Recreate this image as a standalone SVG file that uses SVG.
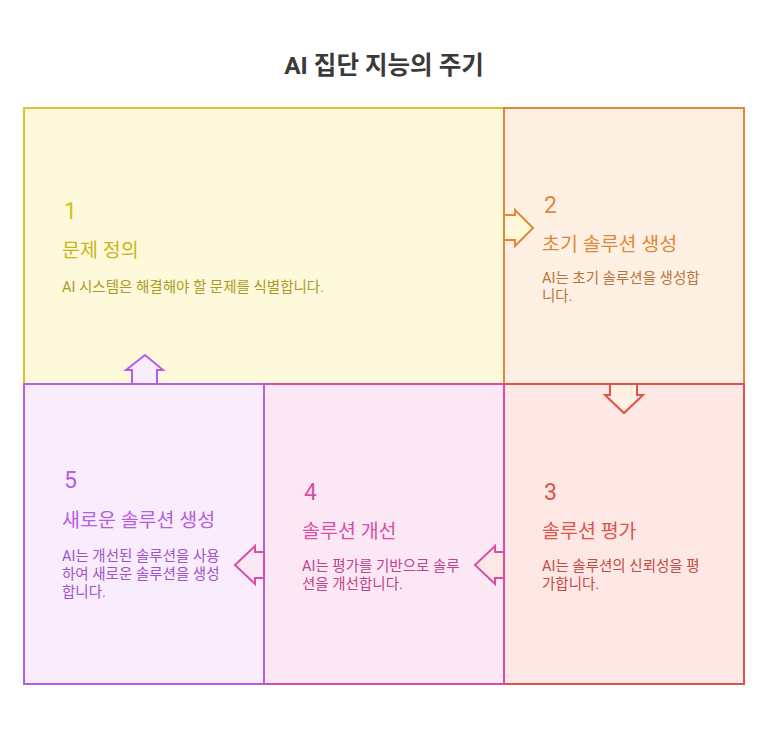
<svg xmlns="http://www.w3.org/2000/svg" width="768" height="732" viewBox="0 0 768 732">
<style>
text{font-family:Roboto,"Noto Sans CJK KR",sans-serif}
.n{font-size:23px}.h{font-size:19.5px}.d{font-size:14.5px}
rect,polygon{stroke-width:2}
</style>
<rect width="768" height="732" fill="#fff"/>
<text x="384" y="74" text-anchor="middle" font-size="24.5" font-weight="bold" fill="#3a3a3a">AI 집단 지능의 주기</text>
<g id="node1"><rect x="24" y="108" width="480" height="276" fill="#fef9db" stroke="#d6c62e"/>
<text class="n" x="64" y="219" fill="#d6c01e">1</text><text class="h" x="62" y="257" fill="#c9b51a">문제 정의</text>
<text class="d" x="62" y="292" fill="#a99a24">AI 시스템은 해결해야 할 문제를 식별합니다.</text></g>
<g id="node2"><rect x="504" y="108" width="240" height="276" fill="#fef0e3" stroke="#e0883a"/>
<text class="n" x="544" y="213" fill="#e0883a">2</text><text class="h" x="542" y="251" fill="#e0883a">초기 솔루션 생성</text>
<text class="d" x="542" y="283" fill="#b8743a">AI는 초기 솔루션을 생성합</text><text class="d" x="542" y="301" fill="#b8743a">니다.</text></g>
<g id="node3"><rect x="504" y="384" width="240" height="300" fill="#fde8e6" stroke="#e0534a"/>
<text class="n" x="544" y="500" fill="#e0534a">3</text><text class="h" x="542" y="538" fill="#e0534a">솔루션 평가</text>
<text class="d" x="542" y="571" fill="#c44a42">AI는 솔루션의 신뢰성을 평</text><text class="d" x="542" y="589" fill="#c44a42">가합니다.</text></g>
<g id="node4"><rect x="264" y="384" width="240" height="300" fill="#fce8f4" stroke="#d94fa6"/>
<text class="n" x="304" y="500" fill="#d94fa6">4</text><text class="h" x="302" y="538" fill="#d94fa6">솔루션 개선</text>
<text class="d" x="302" y="571" fill="#c0428f">AI는 평가를 기반으로 솔루</text><text class="d" x="302" y="589" fill="#c0428f">션을 개선합니다.</text></g>
<g id="node5"><rect x="24" y="384" width="240" height="300" fill="#f8ecfd" stroke="#b65ee0"/>
<text class="n" x="64" y="488" fill="#b65ee0">5</text><text class="h" x="62" y="527" fill="#b65ee0">새로운 솔루션 생성</text>
<text class="d" x="62" y="561" fill="#a052c8">AI는 개선된 솔루션을 사용</text><text class="d" x="62" y="579" fill="#a052c8">하여 새로운 솔루션을 생성</text><text class="d" x="62" y="597" fill="#a052c8">합니다.</text></g>
<g id="connectors">
<polygon points="504,215 515,215 515,210 533,228 515,246 515,240 504,240" fill="#fef9db" stroke="#e0883a"/>
<polygon points="610,384 610,395 605,395 624,413 643,395 637,395 637,384" fill="#fef0e3" stroke="#e0534a"/>
<polygon points="504,552 495,552 495,546 475,565 495,584 495,578 504,578" fill="#fde8e6" stroke="#d94fa6"/>
<polygon points="264,552 255,552 255,546 235,565 255,584 255,578 264,578" fill="#fce8f4" stroke="#d94fa6"/>
<polygon points="132,384 132,370 126,370 145,355 163,370 157,370 157,384" fill="#f8ecfd" stroke="#b65ee0"/>
</g>
</svg>
